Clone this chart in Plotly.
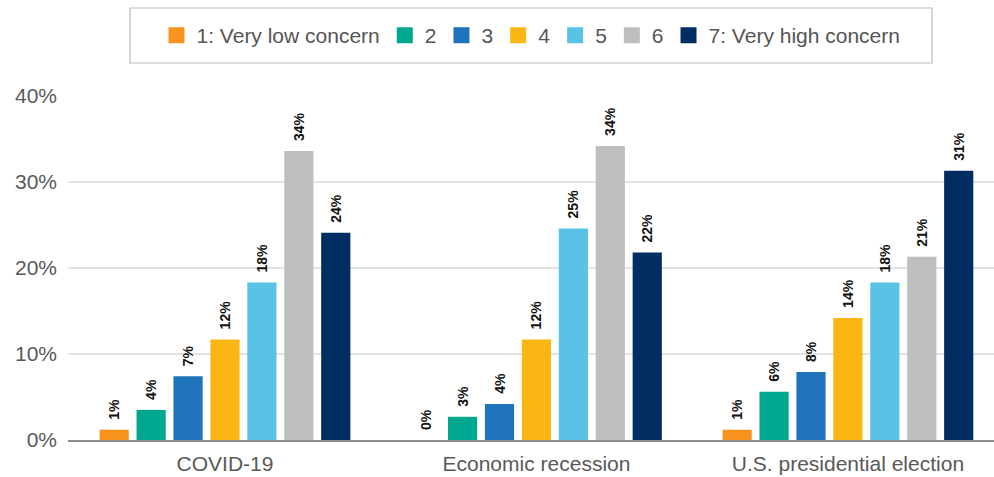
import plotly.graph_objects as go

# Survey: level of concern about each event (share of respondents, %)
categories = ["COVID-19", "Economic recession", "U.S. presidential election"]
levels = ["1: Very low concern", "2", "3", "4", "5", "6", "7: Very high concern"]
colors = ["#F7931E", "#00A88F", "#1F73BA", "#FBB614", "#5BC2E7", "#BCBEC0", "#002D62"]

# values[level] -> [COVID-19, Economic recession, U.S. presidential election]
level_1 = [1.2, 0.0, 1.2]
level_2 = [3.5, 2.7, 5.6]
level_3 = [7.4, 4.2, 7.9]
level_4 = [11.7, 11.7, 14.2]
level_5 = [18.3, 24.6, 18.3]
level_6 = [33.6, 34.2, 21.3]
level_7 = [24.1, 21.8, 31.3]
series = [level_1, level_2, level_3, level_4, level_5, level_6, level_7]

y_ticks = [0, 10, 20, 30, 40]
y_tick_labels = ["0%", "10%", "20%", "30%", "40%"]

FONT = "Liberation Sans, Arial, sans-serif"
W, H = 994, 477
M_L, M_R, M_T, M_B = 68, 0, 96, 37

fig = go.Figure()

for name, vals, col in zip(levels, series, colors):
    fig.add_trace(go.Bar(
        x=categories, y=vals, name=name,
        marker=dict(color=col, line=dict(width=0)),
        texttemplate="\u2002%{y:.0f}%",
        textposition="outside",
        textangle=-90,
        constraintext="none",
        cliponaxis=False,
        textfont=dict(family=FONT, size=14, color="#111111", weight="bold"),
        showlegend=False,
        hoverinfo="skip",
    ))

# Legend entries with larger square swatches
for name, col in zip(levels, colors):
    fig.add_trace(go.Scatter(
        x=[None], y=[None], mode="markers", name=name,
        marker=dict(symbol="square", size=22, color=col),
        showlegend=True,
    ))

plot_h = H - M_T - M_B
plot_w = W - M_L - M_R


def px_x(p):
    return (p - M_L) / plot_w


def px_y(p):
    return (H - M_B - p) / plot_h


# Legend frame
fig.add_shape(
    type="rect", xref="paper", yref="paper",
    x0=px_x(130), x1=px_x(932), y0=px_y(63), y1=px_y(8),
    line=dict(color="#BDBDBD", width=1.2), fillcolor="rgba(0,0,0,0)",
)

fig.update_layout(
    width=W, height=H,
    margin=dict(l=M_L, r=M_R, t=M_T, b=M_B),
    paper_bgcolor="white", plot_bgcolor="white",
    barmode="group", bargap=0.17, bargroupgap=0.21,
    font=dict(family=FONT, color="#595959"),
    legend=dict(
        orientation="h", x=0.5, xanchor="center",
        y=px_y(35.5), yanchor="middle",
        font=dict(family=FONT, size=21, color="#555555"),
        bgcolor="rgba(0,0,0,0)", borderwidth=0,
        itemclick=False, itemdoubleclick=False,
    ),
    xaxis=dict(
        range=[-0.504, 2.469],
        showgrid=False, zeroline=False,
        showline=True, linecolor="#8C8C8C", linewidth=1.5,
        ticks="", tickfont=dict(family=FONT, size=21, color="#595959"),
        ticklabelstandoff=4,
    ),
    yaxis=dict(
        range=[0, 40],
        tickvals=y_ticks, ticktext=y_tick_labels,
        showgrid=True, gridcolor="#E3E3E3", gridwidth=1.5,
        zeroline=False, showline=False, ticks="",
        tickfont=dict(family=FONT, size=21, color="#595959"),
        ticklabelstandoff=10,
    ),
)

fig.write_html("out.html")
